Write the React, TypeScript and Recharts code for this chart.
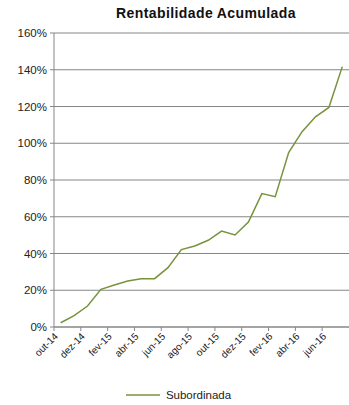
import { CartesianGrid, Legend, Line, LineChart, XAxis, YAxis } from "recharts";

const months = [
  "out-14", "nov-14", "dez-14", "jan-15", "fev-15", "mar-15", "abr-15", "mai-15",
  "jun-15", "jul-15", "ago-15", "set-15", "out-15", "nov-15", "dez-15", "jan-16",
  "fev-16", "mar-16", "abr-16", "mai-16", "jun-16", "jul-16",
];

const subordinada = [
  2.3, 6.2, 11.4, 20.5, 22.9, 25.0, 26.3, 26.3, 32.3, 42.1, 44.1,
  47.2, 52.2, 50.1, 57.1, 72.6, 70.9, 94.9, 106.3, 114.4, 119.5, 141.7,
];

const yTicks = [0, 20, 40, 60, 80, 100, 120, 140, 160];

const data = months.map((m, i) => ({ month: m, subordinada: subordinada[i] }));

const W = 349;
const H = 405;
const PLOT_LEFT = 54;
const PLOT_RIGHT = 349;
const BAND = (PLOT_RIGHT - PLOT_LEFT) / months.length;
const GRID = "#868686";
const GREEN = "#77933C";
const FONT = "'Liberation Sans', Arial, sans-serif";

function MonthTick(props: any) {
  const { x, y, payload } = props;
  const bx = x - BAND / 2;
  return (
    <g>
      <line x1={bx} x2={bx} y1={y - 4} y2={y} stroke={GRID} strokeWidth={1} />
      <text
        x={x - 2}
        y={y + 6}
        textAnchor="end"
        fontSize={10}
        fill="#222"
        fontFamily={FONT}
        transform={`rotate(-45, ${x - 2}, ${y + 6})`}
      >
        {payload.value}
      </text>
    </g>
  );
}

function LegendContent() {
  return (
    <div style={{ display: "flex", justifyContent: "center", alignItems: "center", fontFamily: FONT, fontSize: 11.5, color: "#222", height: 28, paddingTop: 8, boxSizing: "border-box" }}>
      <svg width={34} height={4} style={{ marginRight: 6 }}>
        <line x1={0} x2={34} y1={2} y2={2} stroke={GREEN} strokeWidth={1.5} />
      </svg>
      <span>Subordinada</span>
    </div>
  );
}

export default function App() {
  return (
    <div style={{ position: "absolute", left: 0, top: 0, width: W, height: H, background: "#fff" }}>
      <div
        style={{
          position: "absolute",
          left: 0,
          top: 5,
          width: 412,
          textAlign: "center",
          fontFamily: FONT,
          fontWeight: "bold",
          fontSize: 14,
          letterSpacing: 0.4,
          color: "#111",
        }}
      >
        Rentabilidade Acumulada
      </div>
      <LineChart
        width={W}
        height={H}
        data={data}
        margin={{ top: 33, right: W - PLOT_RIGHT, left: 8, bottom: 0 }}
      >
        <CartesianGrid vertical={false} stroke={GRID} strokeWidth={1} />
        <XAxis
          dataKey="month"
          interval={1}
          stroke={GRID}
          tickLine={false}
          tickSize={4}
          tickMargin={0}
          height={50}
          padding={{ left: BAND / 2, right: BAND / 2 }}
          tick={<MonthTick />}
        />
        <YAxis
          domain={[0, 160]}
          ticks={yTicks}
          width={46}
          stroke={GRID}
          tickSize={4}
          tickMargin={3}
          tickFormatter={(v: number) => `${v}%`}
          tick={{ fontSize: 11.5, fill: "#222", fontFamily: FONT }}
        />
        <Legend verticalAlign="bottom" height={28} content={<LegendContent />} />
        <Line
          type="linear"
          dataKey="subordinada"
          name="Subordinada"
          stroke={GREEN}
          strokeWidth={1.5}
          dot={false}
          isAnimationActive={false}
        />
      </LineChart>
    </div>
  );
}
